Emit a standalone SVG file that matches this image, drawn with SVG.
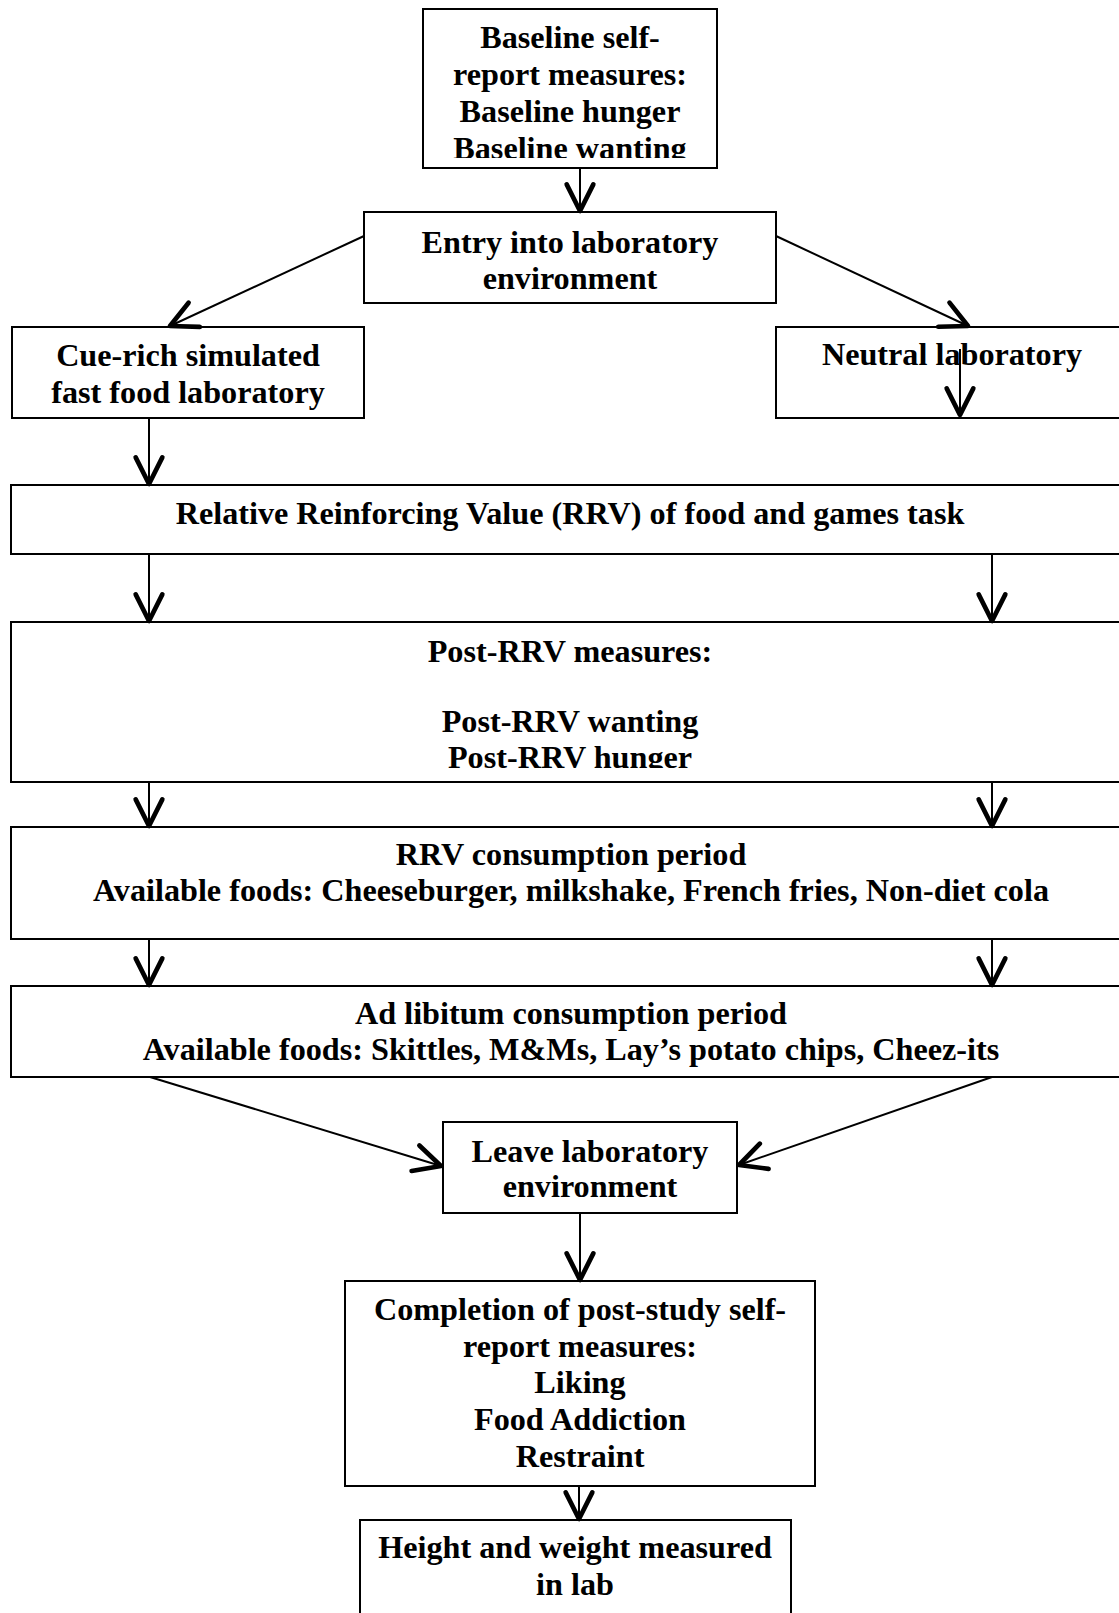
<svg xmlns="http://www.w3.org/2000/svg" width="1119" height="1613" viewBox="0 0 1119 1613">
<style>
.box{fill:#fff;stroke:#000;stroke-width:2}
.t{font-family:"Liberation Serif","Times New Roman",serif;font-weight:bold;font-size:32.2px;fill:#000;text-anchor:middle}
.c{fill:none;stroke:#000;stroke-width:2}
</style>
<defs>
<marker id="arr" markerUnits="userSpaceOnUse" markerWidth="40" markerHeight="40" viewBox="-25 -15 30 30" refX="0" refY="0" orient="auto" overflow="visible">
<path d="M-20,-10 L0,0 L-20,10" fill="none" stroke="#000" stroke-width="3.5" stroke-linecap="round" stroke-linejoin="round"/>
</marker>
<clipPath id="clipBase"><rect x="423" y="9" width="294" height="149"/></clipPath>
<clipPath id="clipPost"><rect x="11" y="622" width="1125" height="146"/></clipPath>
</defs>
<rect width="1119" height="1613" fill="#fff"/>

<g id="baseline">
<rect class="box" x="423" y="9" width="294" height="159"/>
<g clip-path="url(#clipBase)">
<text class="t" x="570" y="48">Baseline self-</text>
<text class="t" x="570" y="85">report measures:</text>
<text class="t" x="570" y="122">Baseline hunger</text>
<text class="t" x="570" y="158.5">Baseline wanting</text>
</g>
</g>

<g id="entry">
<rect class="box" x="364" y="212" width="412" height="91"/>
<text class="t" x="570" y="253">Entry into laboratory</text>
<text class="t" x="570" y="289">environment</text>
</g>

<g id="cuerich">
<rect class="box" x="12" y="327" width="352" height="91"/>
<text class="t" x="188" y="366">Cue-rich simulated</text>
<text class="t" x="188" y="403">fast food laboratory</text>
</g>

<g id="neutral">
<rect class="box" x="776" y="327" width="360" height="91"/>
<text class="t" x="952" y="365">Neutral laboratory</text>
</g>

<g id="rrv">
<rect class="box" x="11" y="485" width="1125" height="69"/>
<text class="t" x="570" y="524">Relative Reinforcing Value (RRV) of food and games task</text>
</g>

<g id="postrrv">
<rect class="box" x="11" y="622" width="1125" height="160"/>
<g clip-path="url(#clipPost)">
<text class="t" x="570" y="662">Post-RRV measures:</text>
<text class="t" x="570" y="732">Post-RRV wanting</text>
<text class="t" x="570" y="768">Post-RRV hunger</text>
</g>
</g>

<g id="rrvconsumption">
<rect class="box" x="11" y="827" width="1125" height="112"/>
<text class="t" x="571" y="865">RRV consumption period</text>
<text class="t" x="571" y="901">Available foods: Cheeseburger, milkshake, French fries, Non-diet cola</text>
</g>

<g id="adlibitum">
<rect class="box" x="11" y="986" width="1125" height="91"/>
<text class="t" x="571" y="1024">Ad libitum consumption period</text>
<text class="t" x="571" y="1060">Available foods: Skittles, M&amp;Ms, Lay’s potato chips, Cheez-its</text>
</g>

<g id="leave">
<rect class="box" x="443" y="1122" width="294" height="91"/>
<text class="t" x="590" y="1162">Leave laboratory</text>
<text class="t" x="590" y="1197">environment</text>
</g>

<g id="completion">
<rect class="box" x="345" y="1281" width="470" height="205"/>
<text class="t" x="580" y="1320">Completion of post-study self-</text>
<text class="t" x="580" y="1357">report measures:</text>
<text class="t" x="580" y="1393">Liking</text>
<text class="t" x="580" y="1430">Food Addiction</text>
<text class="t" x="580" y="1467">Restraint</text>
</g>

<g id="height">
<rect class="box" x="360" y="1520" width="431" height="110"/>
<text class="t" x="575" y="1558">Height and weight measured</text>
<text class="t" x="575" y="1595">in lab</text>
</g>

<g id="connectors">
<line class="c" x1="580" y1="168" x2="580" y2="211" marker-end="url(#arr)"/>
<line class="c" x1="364" y1="236" x2="170" y2="326" marker-end="url(#arr)"/>
<line class="c" x1="776" y1="236" x2="968" y2="326" marker-end="url(#arr)"/>
<line class="c" x1="960" y1="349" x2="960" y2="415" marker-end="url(#arr)"/>
<line class="c" x1="149" y1="418" x2="149" y2="484" marker-end="url(#arr)"/>
<line class="c" x1="149" y1="554" x2="149" y2="621" marker-end="url(#arr)"/>
<line class="c" x1="992" y1="554" x2="992" y2="621" marker-end="url(#arr)"/>
<line class="c" x1="149" y1="782" x2="149" y2="826" marker-end="url(#arr)"/>
<line class="c" x1="992" y1="782" x2="992" y2="826" marker-end="url(#arr)"/>
<line class="c" x1="149" y1="939" x2="149" y2="985" marker-end="url(#arr)"/>
<line class="c" x1="992" y1="939" x2="992" y2="985" marker-end="url(#arr)"/>
<line class="c" x1="150" y1="1077" x2="441" y2="1166" marker-end="url(#arr)"/>
<line class="c" x1="992" y1="1077" x2="739" y2="1165" marker-end="url(#arr)"/>
<line class="c" x1="580" y1="1213" x2="580" y2="1280" marker-end="url(#arr)"/>
<line class="c" x1="579" y1="1486" x2="579" y2="1519" marker-end="url(#arr)"/>
</g>
</svg>
